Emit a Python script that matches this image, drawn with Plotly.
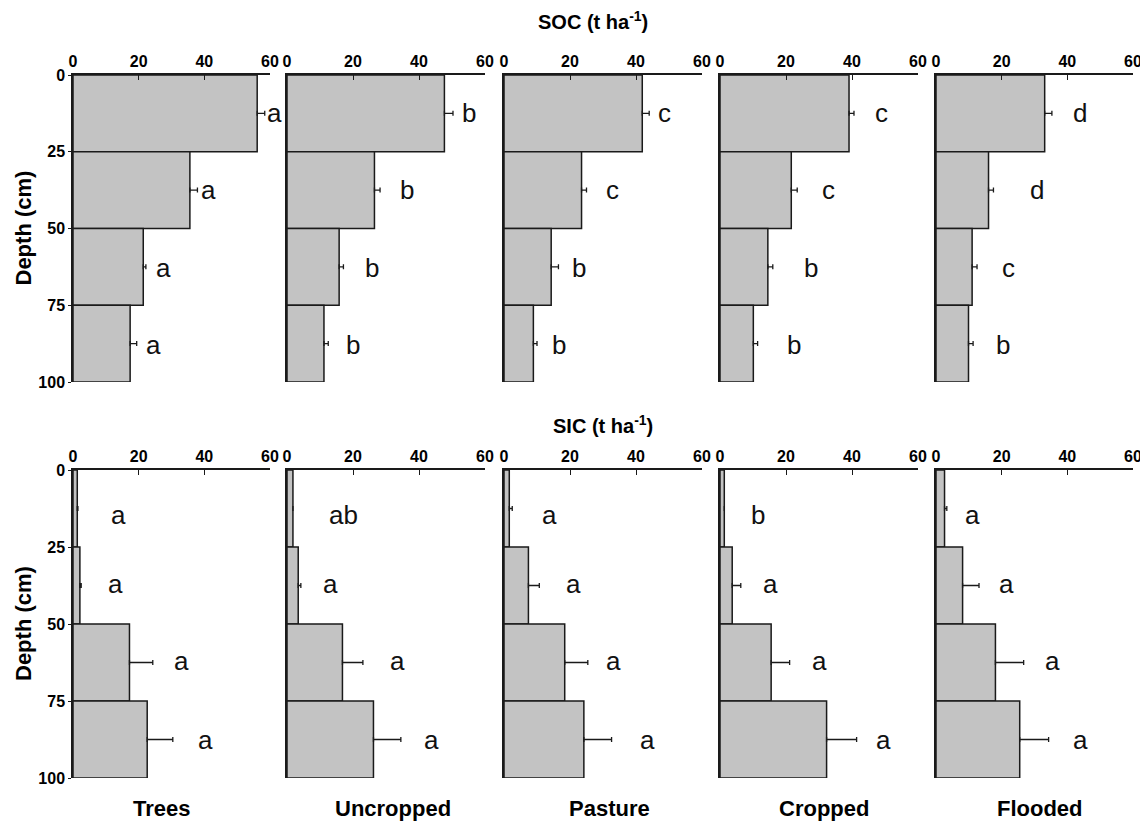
import plotly.graph_objects as go

systems = ["Trees", "Uncropped", "Pasture", "Cropped", "Flooded"]
depth_mid = [12.5, 37.5, 62.5, 87.5]
depth_ticks = [0, 25, 50, 75, 100]
x_ticks = [0, 20, 40, 60]

soc = [
    [56.1, 35.6, 21.4, 17.4],
    [47.7, 26.5, 15.8, 11.2],
    [41.9, 23.5, 14.3, 8.9],
    [39.1, 21.6, 14.5, 10.1],
    [33.1, 16.0, 11.0, 9.9],
]
soc_err = [
    [2.3, 2.3, 0.8, 2.0],
    [2.6, 1.7, 1.3, 1.3],
    [2.1, 1.5, 2.2, 1.1],
    [1.5, 1.8, 1.5, 1.3],
    [2.2, 1.5, 1.5, 1.4],
]
soc_letters = [
    ["a", "a", "a", "a"],
    ["b", "b", "b", "b"],
    ["c", "c", "b", "b"],
    ["c", "c", "b", "b"],
    ["d", "d", "c", "b"],
]
soc_letter_x = [
    [61.5, 41.2, 27.5, 24.5],
    [55.1, 36.5, 25.7, 20.1],
    [48.5, 33.0, 22.6, 16.8],
    [49.0, 32.8, 27.7, 22.3],
    [44.0, 30.9, 22.1, 20.3],
]
soc_letter_y = [12.5, 37.5, 63.0, 88.0]

sic = [
    [1.3, 2.1, 17.2, 22.6],
    [1.8, 3.4, 16.8, 26.2],
    [1.6, 7.4, 18.4, 24.2],
    [1.3, 3.7, 15.5, 32.3],
    [2.6, 8.1, 18.1, 25.5],
]
sic_err = [
    [0.2, 0.4, 7.1, 7.8],
    [0.0, 0.8, 6.2, 8.3],
    [0.9, 3.3, 7.0, 8.4],
    [0.0, 2.6, 5.6, 9.1],
    [0.7, 5.0, 8.6, 8.8],
]
sic_letters = [
    ["a", "a", "a", "a"],
    ["ab", "a", "a", "a"],
    ["a", "a", "a", "a"],
    ["b", "a", "a", "a"],
    ["a", "a", "a", "a"],
]
sic_letter_x = [
    [13.8, 12.8, 32.9, 40.5],
    [17.1, 13.2, 33.5, 43.7],
    [13.8, 21.1, 33.1, 43.5],
    [11.5, 15.4, 30.2, 49.4],
    [11.0, 21.4, 35.6, 44.0],
]
sic_letter_y = [14.5, 37.0, 62.0, 87.5]

# page offset (browser body margin) compensation
OFF = 8
W, H = 1148 - OFF, 824 - OFF
panel_x = [(73, 270), (287, 485), (504, 702), (720, 918), (936, 1133)]
row_y = [(75, 382), (470, 778)]
XMAX = 60


def px(v):
    return (v - OFF) / W


def py(v):
    return 1 - (v - OFF) / H


FONT = "Arial, Liberation Sans, sans-serif"
INK = "#1a1a1a"
fig = go.Figure()
layout = dict(
    width=W, height=H, margin=dict(l=0, r=0, t=0, b=0, autoexpand=False),
    paper_bgcolor="white", plot_bgcolor="white", showlegend=False,
    font=dict(family=FONT, color="black"),
)
annotations = []

rows = [(soc, soc_err, soc_letters, soc_letter_x, soc_letter_y),
        (sic, sic_err, sic_letters, sic_letter_x, sic_letter_y)]
k = 0
for r, (vals, errs, lets, lx, ly) in enumerate(rows):
    y0, y1 = row_y[r]
    for p in range(5):
        k += 1
        xa = "x" if k == 1 else f"x{k}"
        ya = "y" if k == 1 else f"y{k}"
        x0, x1 = panel_x[p]
        unit_px = (x1 - x0) / XMAX
        fig.add_trace(go.Bar(
            x=vals[p], y=depth_mid, orientation="h", width=25,
            marker=dict(color="#c3c3c3", line=dict(color=INK, width=1.5)),
            error_x=dict(type="data", symmetric=False, array=errs[p],
                         arrayminus=[0, 0, 0, 0], color=INK,
                         thickness=1.3, width=2.5),
            xaxis=xa, yaxis=ya, hoverinfo="skip",
        ))
        for t, tx, ty in zip(lets[p], lx[p], ly):
            shift = 0
            if tx > XMAX:
                shift = (tx - XMAX) * unit_px
                tx = XMAX
            annotations.append(dict(
                text=t, x=tx, y=ty, xref=xa, yref=ya, showarrow=False,
                xanchor="center", yanchor="middle", xshift=shift,
                font=dict(size=26, family=FONT, color="#111")))
        xkey = "xaxis" if k == 1 else f"xaxis{k}"
        ykey = "yaxis" if k == 1 else f"yaxis{k}"
        layout[xkey] = dict(
            domain=[px(x0), px(x1)], anchor=ya, side="top",
            range=[0, XMAX], tickvals=x_ticks, ticks="inside", ticklen=5,
            tickwidth=1.3, tickcolor=INK, automargin=False,
            showline=True, linecolor=INK, linewidth=1.5,
            showgrid=False, zeroline=False, fixedrange=True,
            tickfont=dict(size=16, family=FONT, weight="bold"),
        )
        layout[ykey] = dict(
            domain=[py(y1), py(y0)], anchor=xa,
            range=[100, 0], tickvals=depth_ticks, automargin=False,
            showticklabels=(p == 0), ticks="outside" if p == 0 else "",
            ticklen=3, tickcolor=INK,
            showline=True, linecolor=INK, linewidth=1.5,
            showgrid=False, zeroline=False, fixedrange=True,
            tickfont=dict(size=16, family=FONT, weight="bold"),
        )
    annotations.append(dict(
        text="Depth (cm)", x=px(23), y=py((y0 + y1) / 2),
        xref="paper", yref="paper", showarrow=False, textangle=-90,
        xanchor="center", yanchor="middle",
        font=dict(size=22, family=FONT, weight="bold")))

annotations += [
    dict(text="SOC (t ha<sup>-1</sup>)", x=px(593), y=py(21),
         xref="paper", yref="paper", showarrow=False,
         xanchor="center", yanchor="middle",
         font=dict(size=20, family=FONT, weight="bold")),
    dict(text="SIC (t ha<sup>-1</sup>)", x=px(603), y=py(424),
         xref="paper", yref="paper", showarrow=False,
         xanchor="center", yanchor="middle",
         font=dict(size=20, family=FONT, weight="bold")),
]
label_cx = [162, 393, 609, 824, 1040]
for name, cx in zip(systems, label_cx):
    annotations.append(dict(
        text=name, x=px(cx), y=py(808), xref="paper", yref="paper",
        showarrow=False, xanchor="center", yanchor="middle",
        font=dict(size=22, family=FONT, weight="bold")))
layout["annotations"] = annotations
fig.update_layout(**layout)
fig.write_html("out.html")
